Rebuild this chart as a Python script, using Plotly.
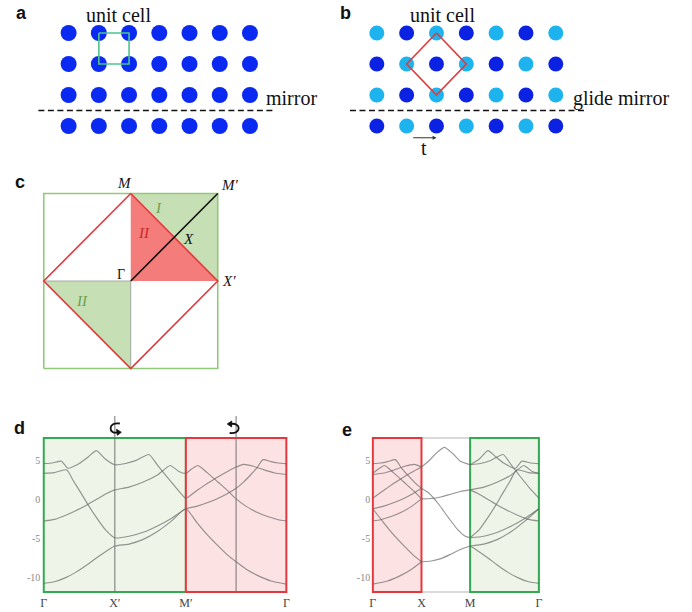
import math
import plotly.graph_objects as go

W, H = 692, 612
SQ2 = math.sqrt(2.0)

SERIF = "Liberation Serif, Times New Roman, serif"
SANS = "Liberation Sans, Arial, sans-serif"

# ---------------------------------------------------------------------------
# Band energies along the large-zone path  Γ(0) → X'(1) → M'(2) → Γ(2+√2)
# (X = 2.707 is the middle of M'Γ)
# ---------------------------------------------------------------------------
path_ticks = [0.0, 1.0, 2.0, 2.0 + SQ2]
path_labels_d = ["Γ", "X′", "M′", "Γ"]
path_labels_e = ["Γ", "X", "M", "Γ"]
energy_ticks = [-10, -5, 0, 5]
energy_labels = ["-10", "-5", "0", "5"]

band1_k = [0, 0.12, 0.25, 0.34, 0.5, 0.62, 0.74, 0.87, 1.0, 1.15, 1.3, 1.48, 1.6,
           1.72, 1.86, 2.0, 2.15, 2.3, 2.45, 2.6, 2.707, 2.81, 2.95, 3.1, 3.25, 3.414]
band1_E = [4.55, 4.62, 4.85, 3.95, 4.55, 5.35, 6.2, 5.1, 4.4, 4.55, 4.95, 5.7, 4.35,
           3.0, 1.5, 0.15, 1.1, 2.0, 2.85, 3.6, 4.1, 4.45, 4.2, 3.75, 3.35, 3.15]

band2_k = [0, 0.15, 0.32, 0.42, 0.52, 0.62, 0.74, 0.87, 1.0, 1.2, 1.4, 1.6, 1.8, 2.0,
           2.15, 2.3, 2.45, 2.6, 2.707, 2.8, 2.9, 3.0, 3.085, 3.2, 3.3, 3.414]
band2_E = [3.3, 3.4, 3.75, 2.3, 0.85, -0.65, -2.3, -3.9, -4.9, -4.7, -4.2, -3.4, -2.4, -1.2,
           -0.9, -0.45, 0.1, 0.8, 1.4, 2.1, 3.0, 4.0, 5.05, 4.8, 4.62, 4.55]

band3_k = [0, 0.15, 0.3, 0.45, 0.62, 0.8, 0.9, 1.0, 1.2, 1.4, 1.6, 1.78, 1.9, 2.0,
           2.08, 2.17, 2.3, 2.45, 2.6, 2.707, 2.85, 3.0, 3.15, 3.3, 3.414]
band3_E = [-2.76, -2.55, -2.05, -1.45, -0.65, 0.3, 0.8, 1.2, 1.55, 2.2, 3.1, 4.3, 3.55, 3.3,
           3.85, 4.3, 3.4, 2.2, 1.0, 0.05, -0.9, -1.65, -2.2, -2.6, -2.76]

band4_k = [0, 0.15, 0.3, 0.45, 0.6, 0.75, 0.88, 1.0, 1.2, 1.4, 1.6, 1.8, 2.0,
           2.15, 2.3, 2.45, 2.6, 2.707, 2.85, 3.0, 3.2, 3.414]
band4_E = [-10.7, -10.5, -10.0, -9.3, -8.4, -7.4, -6.6, -5.95, -5.7, -5.1, -4.1, -2.75, -1.2,
           -2.9, -4.5, -5.9, -7.2, -7.95, -8.9, -9.65, -10.4, -10.8]

# Bands along the small-zone boundary X(1) → M(2)
xm1_k = [1.0, 1.17, 1.3, 1.47, 1.64, 1.81, 2.0]
xm1_E = [4.1, 5.0, 5.85, 6.6, 5.85, 4.8, 4.4]
xm2_k = [1.0, 1.15, 1.35, 1.55, 1.75, 1.9, 2.0]
xm2_E = [1.4, 0.8, -0.6, -2.3, -3.9, -4.7, -4.9]
xm3_k = [1.0, 1.2, 1.4, 1.6, 1.8, 2.0]
xm3_E = [0.05, 0.1, 0.3, 0.65, 1.0, 1.2]
xm4_k = [1.0, 1.2, 1.4, 1.6, 1.8, 2.0]
xm4_E = [-7.95, -7.85, -7.55, -7.0, -6.4, -5.95]

# Lattice of panels a and b (column / row indices)
lattice_cols = list(range(7))
lattice_rows = list(range(4))

# ---------------------------------------------------------------------------
# colours
# ---------------------------------------------------------------------------
BLUE = "#0a2af2"
DARK_BLUE = "#0b22e2"
LIGHT_BLUE = "#1db3ee"
CELL_GREEN = "#4fc48e"
RED_LINE = "#e3393c"
BAND = "rgba(100,100,100,0.68)"
GREEN_FILL = "#eef5e8"
GREEN_EDGE = "#33aa52"
RED_FILL = "#fde2e3"
RED_EDGE = "#e6383c"
BZ_GREEN_FILL = "#c6dfb4"
BZ_GREEN_EDGE = "#93c77a"
BZ_RED_FILL = "#f47d7b"


def dom_x(p0, p1):
    return [p0 / W, p1 / W]


def dom_y(top, bot):
    return [1 - bot / H, 1 - top / H]


fig = go.Figure()

# ---------------------------------------------------------------------------
# panel a : square lattice with a mirror line
# ---------------------------------------------------------------------------
ax_a = dict(ox=67, sx=30.4, oy=33, sy=31, box=(0, 0, 335, 165))
ax_b = dict(ox=377, sx=30.0, oy=33, sy=31, box=(340, 0, 692, 165))

ia = [i for j in lattice_rows for i in lattice_cols]
ja = [j for j in lattice_rows for i in lattice_cols]
fig.add_trace(go.Scatter(x=ia, y=ja, mode="markers", xaxis="x3", yaxis="y3",
                         marker=dict(size=16, color=BLUE, line=dict(width=0))))
fig.add_trace(go.Scatter(x=[1, 2, 2, 1, 1], y=[0, 0, 1, 1, 0], mode="lines",
                         xaxis="x3", yaxis="y3", line=dict(color=CELL_GREEN, width=1.6)))
fig.add_trace(go.Scatter(x=[-1.0, 6.8], y=[2.5, 2.5], mode="lines", xaxis="x3", yaxis="y3",
                         line=dict(color="#111", width=1.6, dash="6px,3.5px")))

# ---------------------------------------------------------------------------
# panel b : two sublattices with a glide mirror
# ---------------------------------------------------------------------------
cols_b = [LIGHT_BLUE if (i + j) % 2 == 0 else DARK_BLUE for i, j in zip(ia, ja)]
fig.add_trace(go.Scatter(x=ia, y=ja, mode="markers", xaxis="x4", yaxis="y4",
                         marker=dict(size=15, color=cols_b, line=dict(width=0))))
fig.add_trace(go.Scatter(x=[2, 3, 2, 1, 2], y=[0, 1, 2, 1, 0], mode="lines",
                         xaxis="x4", yaxis="y4", line=dict(color=RED_LINE, width=1.6)))
fig.add_trace(go.Scatter(x=[-0.9, 7.0], y=[2.5, 2.5], mode="lines", xaxis="x4", yaxis="y4",
                         line=dict(color="#111", width=1.6, dash="6px,3.5px")))

# ---------------------------------------------------------------------------
# panel c : Brillouin zones (Γ at origin, large zone half-width 1)
# ---------------------------------------------------------------------------
def poly(xs, ys, fill, **kw):
    fig.add_trace(go.Scatter(x=xs, y=ys, mode="lines", fill="toself", fillcolor=fill,
                             xaxis="x5", yaxis="y5", line=dict(width=0), **kw))


poly([0, 1, 1, 0], [1, 1, 0, 1], BZ_GREEN_FILL)          # region I
poly([0, 0, 1, 0], [1, 0, 0, 1], BZ_RED_FILL)            # region II (red)
poly([0, -1, 0, 0], [0, 0, -1, 0], BZ_GREEN_FILL)        # region II (green)
fig.add_trace(go.Scatter(x=[-1, 0, 0], y=[0, 0, -1], mode="lines", xaxis="x5", yaxis="y5",
                         line=dict(color="rgba(150,150,150,0.8)", width=1)))
fig.add_trace(go.Scatter(x=[-1, 1, 1, -1, -1], y=[-1, -1, 1, 1, -1], mode="lines",
                         xaxis="x5", yaxis="y5", line=dict(color=BZ_GREEN_EDGE, width=1.6)))
fig.add_trace(go.Scatter(x=[0, 1, 0, -1, 0], y=[1, 0, -1, 0, 1], mode="lines",
                         xaxis="x5", yaxis="y5", line=dict(color=RED_LINE, width=1.6)))
fig.add_trace(go.Scatter(x=[0, 1], y=[0, 1], mode="lines", xaxis="x5", yaxis="y5",
                         line=dict(color="#111", width=1.6)))

# ---------------------------------------------------------------------------
# panels d and e : band structures
# ---------------------------------------------------------------------------
bands = [(band1_k, band1_E), (band2_k, band2_E), (band3_k, band3_E), (band4_k, band4_E)]
line_style = dict(color=BAND, width=1.15, shape="spline", smoothing=0.55)

for k, E in bands:
    fig.add_trace(go.Scatter(x=k, y=E, mode="lines", xaxis="x", yaxis="y", line=line_style))


def part(k, E, lo, hi):
    sel = [(kk, ee) for kk, ee in zip(k, E) if lo - 1e-3 <= kk <= hi + 1e-3]
    return [s[0] for s in sel], [s[1] for s in sel]


# the same bands folded into the small zone: Γ→X from the M'Γ line, M→Γ from Γ X' M'
K_G2 = 2.0 + SQ2
for k, E in bands:
    for lo, hi, fold in [
        (0.0, 1.0, lambda q: 2.0 + (1.0 - q) * SQ2),
        (1.0, 2.0, lambda q: 2.0 + (q - 1.0) * SQ2),
        (2.0, 2.707, lambda q: (q - 2.0) * SQ2),
        (2.707, K_G2, lambda q: (K_G2 - q) * SQ2),
    ]:
        kk, ee = part(k, E, lo, hi)
        fig.add_trace(go.Scatter(x=[fold(q) for q in kk], y=ee, mode="lines",
                                 xaxis="x2", yaxis="y2", line=line_style))

for k, E in [(xm1_k, xm1_E), (xm2_k, xm2_E), (xm3_k, xm3_E), (xm4_k, xm4_E)]:
    fig.add_trace(go.Scatter(x=k, y=E, mode="lines", xaxis="x2", yaxis="y2", line=line_style))

fig.update_traces(hoverinfo="skip", showlegend=False)

# ---------------------------------------------------------------------------
# axes
# ---------------------------------------------------------------------------
hidden = dict(visible=False, showgrid=False, zeroline=False, fixedrange=True)


def lattice_axes(spec):
    x0, y0, x1, y1 = spec["box"]
    xr = [(x0 - spec["ox"]) / spec["sx"], (x1 - spec["ox"]) / spec["sx"]]
    yr = [(y1 - spec["oy"]) / spec["sy"], (y0 - spec["oy"]) / spec["sy"]]
    return dict(domain=dom_x(x0, x1), range=xr, **hidden), dict(domain=dom_y(y0, y1), range=yr, **hidden)


xa3, ya3 = lattice_axes(ax_a)
xa4, ya4 = lattice_axes(ax_b)

# zone diagram: Γ at (129.5, 281) px, half-width 87.5 px
cz = dict(ox=129.5, oy=281, s=87.5)
xa5 = dict(domain=dom_x(30, 229), range=[(30 - cz["ox"]) / cz["s"], (229 - cz["ox"]) / cz["s"]], **hidden)
ya5 = dict(domain=dom_y(181, 381), range=[(cz["oy"] - 381) / cz["s"], (cz["oy"] - 181) / cz["s"]], **hidden)

# band panels share the energy scale
E_LO, E_HI = -11.8, 7.8
E_PAD = 0.25
y_zero_px, y_scale = 499.3, 7.857
band_top = y_zero_px - (E_HI + E_PAD) * y_scale
band_bot = y_zero_px - (E_LO - E_PAD) * y_scale
K_PAD = 0.035


def band_axes(left_px, width_px, labels):
    s = width_px / K_G2
    xa = dict(domain=dom_x(left_px - K_PAD * s, left_px + (K_G2 + K_PAD) * s),
              range=[-K_PAD, K_G2 + K_PAD], tickmode="array", tickvals=path_ticks,
              ticktext=labels, ticks="", showgrid=False, zeroline=False, showline=False,
              tickfont=dict(family=SERIF, size=12, color="#444"), fixedrange=True)
    ya = dict(domain=dom_y(band_top, band_bot), range=[E_LO - E_PAD, E_HI + E_PAD],
              tickmode="array", tickvals=energy_ticks, ticktext=energy_labels, ticks="",
              showgrid=False, zeroline=False, showline=False,
              tickfont=dict(family=SERIF, size=10, color="#8a8a8a"), fixedrange=True)
    return xa, ya


xa1, ya1 = band_axes(42, 244, path_labels_d)
xa2, ya2 = band_axes(373, 167, path_labels_e)
ya1["anchor"] = "x"
xa1["anchor"] = "y"
xa2["anchor"] = "y2"
ya2["anchor"] = "x2"

# ---------------------------------------------------------------------------
# shapes: coloured regions, frame, symmetry lines
# ---------------------------------------------------------------------------
shapes = [
    dict(type="rect", xref="x", yref="y", x0=0, x1=2, y0=E_LO, y1=E_HI, layer="below",
         fillcolor=GREEN_FILL, line=dict(color=GREEN_EDGE, width=2)),
    dict(type="rect", xref="x", yref="y", x0=2, x1=K_G2, y0=E_LO, y1=E_HI, layer="below",
         fillcolor=RED_FILL, line=dict(color=RED_EDGE, width=2)),
    dict(type="rect", xref="x2", yref="y2", x0=0, x1=K_G2, y0=E_LO, y1=E_HI, layer="below",
         fillcolor="rgba(0,0,0,0)", line=dict(color="#b5b5b5", width=1.2)),
    dict(type="rect", xref="x2", yref="y2", x0=0, x1=1, y0=E_LO, y1=E_HI, layer="below",
         fillcolor=RED_FILL, line=dict(color=RED_EDGE, width=2)),
    dict(type="rect", xref="x2", yref="y2", x0=2, x1=K_G2, y0=E_LO, y1=E_HI, layer="below",
         fillcolor=GREEN_FILL, line=dict(color=GREEN_EDGE, width=2)),
]
# symmetry axes through X' and X, extending above the panel
for kx in [1.0, 2.707]:
    shapes.append(dict(type="line", xref="x", yref="paper", x0=kx, x1=kx,
                       y0=1 - 592 / H, y1=1 - 416 / H, layer="above",
                       line=dict(color="rgba(110,110,110,0.8)", width=1.2)))


def pxpath(cmds):
    out = []
    for c in cmds:
        if isinstance(c, str):
            out.append(c)
        else:
            out.append(f"{c[0] / W:.5f},{1 - c[1] / H:.5f}")
    return " ".join(out)


# rotation arrows about the symmetry axes
rot_left = pxpath(["M", (118.5, 423.5), "C", (106.5, 421.5), (106.5, 434.5), (116.5, 432.5)])
rot_left_head = pxpath(["M", (120, 432.3), "L", (115.2, 429.3), "L", (116, 435.3), "Z"])
rot_right = pxpath(["M", (229.5, 424), "C", (241, 422), (241, 434.5), (229, 433)])
rot_right_head = pxpath(["M", (226.5, 424), "L", (231, 421), "L", (231, 427), "Z"])
for p in [rot_left, rot_right]:
    shapes.append(dict(type="path", xref="paper", yref="paper", path=p,
                       line=dict(color="#111", width=1.8)))
for p in [rot_left_head, rot_right_head]:
    shapes.append(dict(type="path", xref="paper", yref="paper", path=p,
                       fillcolor="#111", line=dict(color="#111", width=0.8)))

# ---------------------------------------------------------------------------
# text
# ---------------------------------------------------------------------------
def ptxt(text, px, py, size=18, family=SANS, color="#111", xanchor="center", **kw):
    return dict(text=text, x=px / W, y=1 - py / H, xref="paper", yref="paper",
                showarrow=False, xanchor=xanchor, yanchor="middle",
                font=dict(family=family, size=size, color=color), **kw)


def atxt(text, x, y, axis, size=19, family=SERIF, color="#111", xanchor="center"):
    return dict(text=text, x=x, y=y, xref="x" + axis, yref="y" + axis, showarrow=False,
                xanchor=xanchor, yanchor="middle", font=dict(family=family, size=size, color=color))


annotations = [
    ptxt("<b>a</b>", 20, 13),
    ptxt("<b>b</b>", 345, 13),
    ptxt("<b>c</b>", 18, 182),
    ptxt("<b>d</b>", 18, 428),
    ptxt("<b>e</b>", 347, 430),
    atxt("unit cell", 1.64, -0.58, "3", size=20),
    atxt("mirror", 6.45, 2.1, "3", xanchor="left", size=20),
    atxt("unit cell", 2.2, -0.58, "4", size=20),
    atxt("glide mirror", 6.5, 2.1, "4", xanchor="left", size=20),
    atxt("t", 1.57, 3.7, "4", size=20),
    dict(x=2.0, y=3.38, ax=1.17, ay=3.38, xref="x4", yref="y4", axref="x4", ayref="y4",
         text="", showarrow=True, arrowhead=2, arrowsize=0.7, arrowwidth=1.1,
         arrowcolor="#333"),
    atxt("<i>M</i>", -0.074, 1.12, "5", size=15),
    atxt("<i>M′</i>", 1.13, 1.10, "5", size=15),
    atxt("<i>X</i>", 0.66, 0.48, "5", size=15),
    atxt("<i>X′</i>", 1.13, 0.0, "5", size=15),
    atxt("Γ", -0.11, 0.08, "5", size=14),
    atxt("<i>I</i>", 0.314, 0.834, "5", size=15, color="#6c9f4e"),
    atxt("<i>II</i>", 0.154, 0.55, "5", size=15, color="#c8262a"),
    atxt("<i>II</i>", -0.566, -0.23, "5", size=15, color="#6c9f4e"),
]

fig.update_layout(
    width=W, height=H, margin=dict(l=0, r=0, t=0, b=0),
    paper_bgcolor="white", plot_bgcolor="rgba(0,0,0,0)",
    showlegend=False,
    xaxis=xa1, yaxis=ya1, xaxis2=xa2, yaxis2=ya2,
    xaxis3=dict(xa3, anchor="y3"), yaxis3=dict(ya3, anchor="x3"),
    xaxis4=dict(xa4, anchor="y4"), yaxis4=dict(ya4, anchor="x4"),
    xaxis5=dict(xa5, anchor="y5"), yaxis5=dict(ya5, anchor="x5"),
    shapes=shapes, annotations=annotations,
)

fig.write_html("out.html")
